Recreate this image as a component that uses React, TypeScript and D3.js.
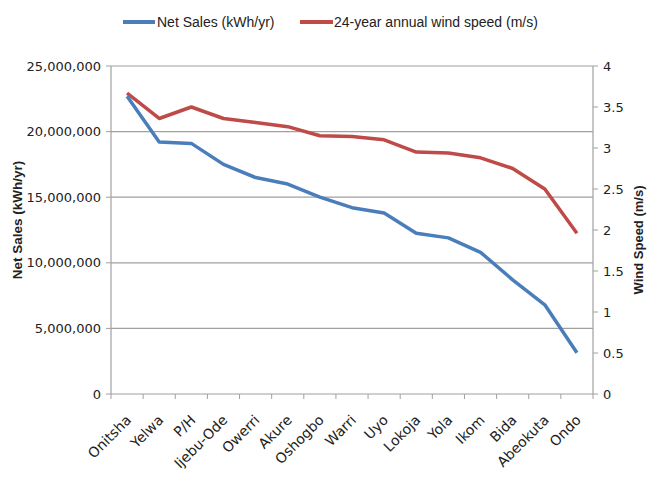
import * as d3 from "d3";

const cities = [
  "Onitsha", "Yelwa", "P/H", "Ijebu-Ode", "Owerri", "Akure", "Oshogbo", "Warri",
  "Uyo", "Lokoja", "Yola", "Ikom", "Bida", "Abeokuta", "Ondo",
];
const netSales = [
  22700000, 19200000, 19100000, 17500000, 16500000, 16000000, 15000000, 14200000,
  13800000, 12250000, 11900000, 10800000, 8700000, 6800000, 3150000,
];
const windSpeed = [
  3.67, 3.36, 3.5, 3.36, 3.31, 3.26, 3.15, 3.14, 3.1, 2.95, 2.94, 2.88, 2.75, 2.5, 1.96,
];
const salesTicks = [0, 5000000, 10000000, 15000000, 20000000, 25000000];
const windTicks = [0, 0.5, 1, 1.5, 2, 2.5, 3, 3.5, 4];

const W = 647;
const H = 486;
const m = { left: 111, right: 593, top: 66, bottom: 394 };
const font = "'Liberation Sans', Arial, sans-serif";
const tickFont = "'DejaVu Sans', sans-serif";
const blue = "#4a7ebb";
const red = "#be4b48";
const grid = "#a0a0a0";

export default function App() {
  const x = d3.scaleBand().domain(cities).range([m.left, m.right]);
  const yL = d3.scaleLinear().domain([0, 25000000]).range([m.bottom, m.top]);
  const yR = d3.scaleLinear().domain([0, 4]).range([m.bottom, m.top]);
  const cx = (c: string) => x(c)! + x.bandwidth() / 2;

  const salesLine = d3
    .line<number>()
    .x((_, i) => cx(cities[i]))
    .y((d) => yL(d));
  const windLine = d3
    .line<number>()
    .x((_, i) => cx(cities[i]))
    .y((d) => yR(d));

  const fmt = d3.format(",");
  const bounds = cities.map((c) => x(c)!).concat([m.right]);

  return (
    <svg
      width={W}
      height={H}
      style={{ position: "absolute", left: 0, top: 0, background: "#fff" }}
      fontFamily={font}
    >
      {/* gridlines */}
      {salesTicks.slice(1).map((t) => (
        <line key={t} x1={m.left} x2={m.right} y1={yL(t)} y2={yL(t)} stroke={grid} strokeWidth={1.2} />
      ))}

      {/* left axis */}
      <line x1={m.left} x2={m.left} y1={m.top} y2={m.bottom} stroke={grid} strokeWidth={1.2} />
      {salesTicks.map((t) => (
        <g key={t}>
          <line x1={m.left - 5} x2={m.left} y1={yL(t)} y2={yL(t)} stroke={grid} />
          <text x={m.left - 10} y={yL(t)} dy="0.36em" textAnchor="end" fontSize={13} fontFamily={tickFont} fill="#222">
            {fmt(t)}
          </text>
        </g>
      ))}

      {/* right axis */}
      <line x1={m.right} x2={m.right} y1={m.top} y2={m.bottom} stroke={grid} strokeWidth={1.2} />
      {windTicks.map((t) => (
        <g key={t}>
          <line x1={m.right} x2={m.right + 5} y1={yR(t)} y2={yR(t)} stroke={grid} />
          <text x={m.right + 10} y={yR(t)} dy="0.36em" fontSize={13} fontFamily={tickFont} fill="#222">
            {t}
          </text>
        </g>
      ))}

      {/* bottom axis */}
      <line x1={m.left} x2={m.right} y1={m.bottom} y2={m.bottom} stroke={grid} strokeWidth={1.2} />
      {bounds.map((b, i) => (
        <line key={i} x1={b} x2={b} y1={m.bottom} y2={m.bottom + 5} stroke={grid} />
      ))}
      {cities.map((c) => (
        <text
          key={c}
          transform={`translate(${cx(c) + 5},${m.bottom + 27}) rotate(-45)`}
          textAnchor="end"
          fontSize={14}
          fontFamily={tickFont}
          fill="#222"
        >
          {c}
        </text>
      ))}

      {/* axis titles */}
      <text
        transform={`translate(22,${(m.top + m.bottom) / 2 - 10}) rotate(-90)`}
        textAnchor="middle"
        fontSize={13.5}
        fontWeight="bold"
        fill="#222"
      >
        Net Sales (kWh/yr)
      </text>
      <text
        transform={`translate(643,${(m.top + m.bottom) / 2 + 10}) rotate(-90)`}
        textAnchor="middle"
        fontSize={13}
        fontWeight="bold"
        fill="#222"
      >
        Wind Speed (m/s)
      </text>

      {/* series */}
      <path d={windLine(windSpeed)!} fill="none" stroke={red} strokeWidth={3.5} strokeLinejoin="round" />
      <path d={salesLine(netSales)!} fill="none" stroke={blue} strokeWidth={3.5} strokeLinejoin="round" />

      {/* legend */}
      <line x1={123} x2={155} y1={22} y2={22} stroke={blue} strokeWidth={4} />
      <text x={157} y={22} dy="0.35em" fontSize={14} fill="#222">
        Net Sales (kWh/yr)
      </text>
      <line x1={300} x2={333} y1={22} y2={22} stroke={red} strokeWidth={4} />
      <text x={334} y={22} dy="0.35em" fontSize={14} fill="#222">
        24-year annual wind speed (m/s)
      </text>
    </svg>
  );
}
